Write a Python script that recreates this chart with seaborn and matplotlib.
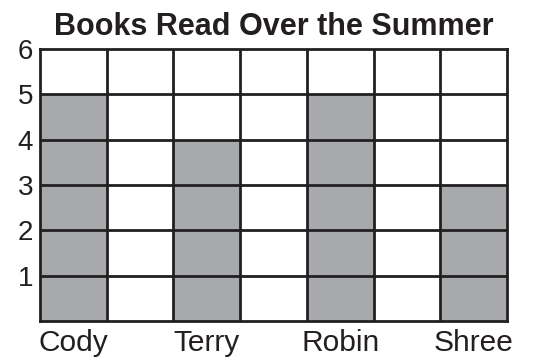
import matplotlib
matplotlib.use("Agg")
import matplotlib.pyplot as plt
import seaborn as sns
import pandas as pd

# Books read by each student
names = ["Cody", "Terry", "Robin", "Shree"]
books = [5, 4, 5, 3]
# Students sit on every other column of the grid
columns = [0, 2, 4, 6]
y_ticks = [1, 2, 3, 4, 5, 6]

sns.set_theme(style="white")
plt.rcParams["font.family"] = ["Liberation Sans", "DejaVu Sans"]

ink = "#231f20"
fill = "#a7a9ac"

df = pd.DataFrame({"column": columns, "books": books, "name": names})

fig = plt.figure(figsize=(5.45, 3.62), dpi=100)
ax = fig.add_axes([40 / 545, 41 / 362, 467 / 545, 272 / 362])

sns.barplot(data=df, x="column", y="books", native_scale=True, width=0.5,
            color=fill, saturation=1, linewidth=0, ax=ax, zorder=1)

ax.set_xlim(-0.5, 6.5)
ax.set_ylim(0, 6)

# Square grid drawn over the bars
for xv in [c + 0.5 for c in range(6)]:
    ax.axvline(xv, color=ink, lw=2.0, zorder=3)
for yv in range(1, 6):
    ax.axhline(yv, color=ink, lw=2.0, zorder=3)
for side in ax.spines.values():
    side.set_visible(True)
    side.set_color(ink)
    side.set_linewidth(2.0)
    side.set_zorder(4)

ax.set_xticks(columns)
ax.set_xticklabels(names, fontsize=21.5, color=ink)
ax.set_yticks(y_ticks)
ax.set_yticklabels([str(v) for v in y_ticks], fontsize=20, color=ink)
ax.tick_params(axis="x", length=0, pad=6)
ax.tick_params(axis="y", length=0, pad=5)
ax.set_xlabel("")
ax.set_ylabel("")

ax.set_title("Books Read Over the Summer", fontsize=22, fontweight="bold",
             color=ink, pad=10)

fig.savefig("out.png", dpi=100)
